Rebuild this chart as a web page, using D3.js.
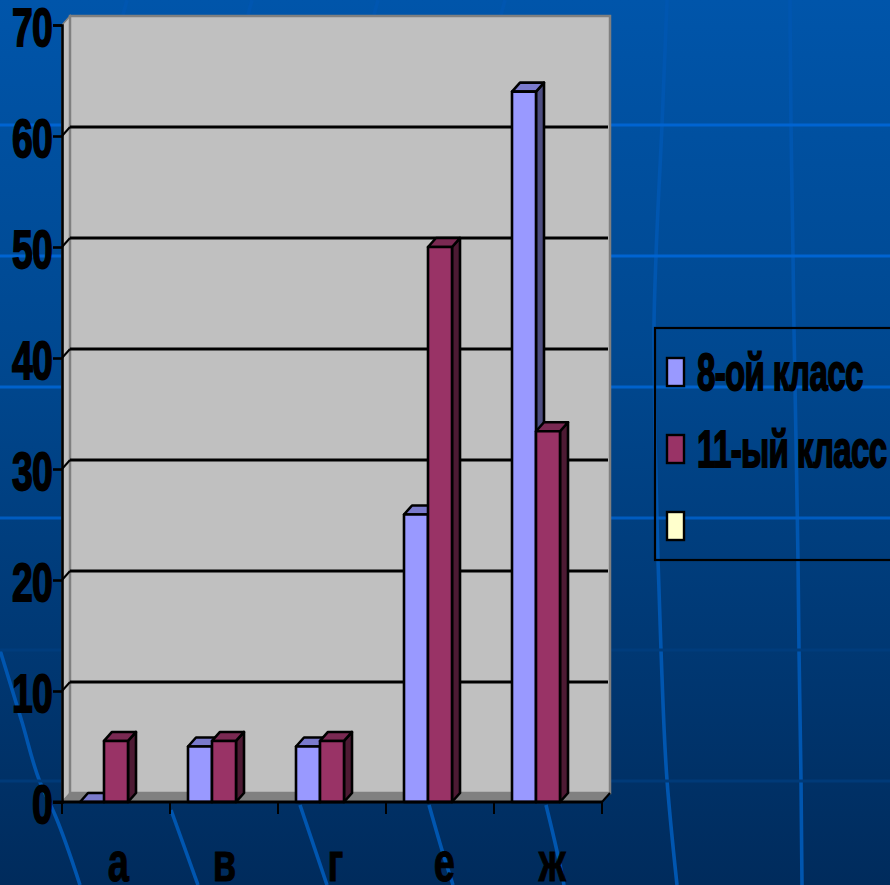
<!DOCTYPE html>
<html><head><meta charset="utf-8">
<script src="https://cdn.jsdelivr.net/npm/d3@7"></script>
<style>html,body{margin:0;padding:0;background:#00305f}svg{display:block}</style></head>
<body><svg id="c" width="890" height="885"></svg>
<script>
const categories = ["а","в","г","е","ж"];
const seriesNames = ["8-ой класс","11-ый класс",""];
const values8 = [0,5,5,25.9,64];
const values11 = [5.5,5.5,5.5,50,33.4];
const valuesThird = [null,null,null,null,null];
const yTicks = [0,10,20,30,40,50,60,70];
const frontColors = ["#9999ff","#993366","#ffffcc"];
const topColors = ["#7a7acc","#7a2952","#ccccA3"];
const sideColors = ["#4d4d80","#4d1a33","#808066"];

const W=890,H=885, dx=8, dy=-9;
const svg=d3.select("#c");
const defs=svg.append("defs");
const g=defs.append("linearGradient").attr("id","bg").attr("x1",0).attr("y1",0).attr("x2",0).attr("y2",1);
g.append("stop").attr("offset","0").attr("stop-color","#0055aa");
g.append("stop").attr("offset","0.4").attr("stop-color","#004890");
g.append("stop").attr("offset","1").attr("stop-color","#002b5c");
svg.append("rect").attr("width",W).attr("height",H).attr("fill","url(#bg)");

// Background decoration of the slide
const bgV=[
 [[667,0],[662,125],[656,256],[654,330],[655,440],[658,560],[661,650],[667,780],[677,885]],
 [[790,0],[791,125],[793,256],[794,330],[796,440],[798,560],[799,650],[801,780],[802,885]],
 [[127,0],[123,15]],[[252,0],[248,15]],[[378,0],[374,15]],[[505,0],[501,15]],
 [[0,650],[22,722],[40,782],[55,815],[80,885]],
 [[171,810],[198,885]],[[300,805],[327,885]],[[429,805],[445,860],[453,885]],[[546,805],[560,865],[564,885]]
];
const ln=d3.line().curve(d3.curveMonotoneY);
bgV.forEach(p=>svg.append("path").attr("d",ln(p)).attr("fill","none").attr("stroke","#0056b0").attr("stroke-width",3.6));
const bgH=[[125,"#0064d2"],[256,"#0064d2"],[387,"#0062cc"],[518,"#005cc0"],[650,"#003c7c"],[781,"#003a78"]];
bgH.forEach(d=>svg.append("line").attr("x1",0).attr("x2",W).attr("y1",d[0]).attr("y2",d[0]).attr("stroke",d[1]).attr("stroke-width",3));

// scales
const x=d3.scaleBand().domain(categories).range([62,602]).paddingInner(1/3).paddingOuter(1/6);
const x1=d3.scaleBand().domain([0,1,2]).range([0,x.bandwidth()]);
const y=d3.scaleLinear().domain([0,70]).range([802,25]);

const poly=p=>"M"+p.map(q=>q.join(",")).join("L")+"Z";
const x0=x.range()[0], xN=x.range()[1], y0=y(0), yT=y(70);

// walls
svg.append("path").attr("d",poly([[x0,y0],[x0+dx,y0+dy],[x0+dx,yT+dy],[x0,yT]])).attr("fill","#c0c0c0").attr("stroke","#808080").attr("stroke-width",1.5);
svg.append("rect").attr("x",x0+dx).attr("y",yT+dy).attr("width",xN-x0).attr("height",y0-yT).attr("fill","#c0c0c0").attr("stroke","#808080").attr("stroke-width",2.5);
svg.append("path").attr("d",poly([[x0,y0],[x0+dx,y0+dy],[xN+dx,y0+dy],[xN,y0]])).attr("fill","#808080");

// gridlines
yTicks.filter(t=>t>0&&t<70).forEach(t=>{
  svg.append("line").attr("x1",x0+dx).attr("x2",xN+dx-2).attr("y1",y(t)+dy).attr("y2",y(t)+dy).attr("stroke","#000").attr("stroke-width",3);
  svg.append("line").attr("x1",x0).attr("x2",x0+dx).attr("y1",y(t)).attr("y2",y(t)+dy).attr("stroke","#000").attr("stroke-width",2);
});

// bars
const series=[values8,values11,valuesThird];
series.forEach((vals,s)=>{
  categories.forEach((c,i)=>{
    const v=vals[i]; if(v==null) return;
    const xl=x(c)+x1(s), xr=xl+x1.bandwidth(), yt=y(v);
    const a=svg.append("g").attr("stroke","#000").attr("stroke-width",2.6).attr("stroke-linejoin","round");
    a.append("path").attr("d",poly([[xr,yt],[xr+dx,yt+dy],[xr+dx,y0+dy],[xr,y0]])).attr("fill",sideColors[s]);
    a.append("path").attr("d",poly([[xl,yt],[xl+dx,yt+dy],[xr+dx,yt+dy],[xr,yt]])).attr("fill",topColors[s]);
    if(v>0) a.append("rect").attr("x",xl).attr("y",yt).attr("width",xr-xl).attr("height",y0-yt).attr("fill",frontColors[s]);
  });
});

// axes
const yAxis=d3.axisLeft(y).tickValues(yTicks).tickSize(9).tickPadding(0).tickFormat(d=>"");
const gy=svg.append("g").attr("transform",`translate(${x0},0)`).call(yAxis);
gy.selectAll("line,path").attr("stroke","#000").attr("stroke-width",2.6);
const edges=d3.range(categories.length+1).map(i=>x0+i*x.step());
svg.append("line").attr("x1",x0-9).attr("x2",xN).attr("y1",y0).attr("y2",y0).attr("stroke","#000").attr("stroke-width",3);
edges.forEach(e=>svg.append("line").attr("x1",e).attr("x2",e).attr("y1",y0).attr("y2",y0+12).attr("stroke","#000").attr("stroke-width",2));
svg.append("line").attr("x1",xN).attr("x2",xN+dx).attr("y1",y0).attr("y2",y0+dy).attr("stroke","#000").attr("stroke-width",2);

// condensed heavy text
function label(tx,ty,str,fs,sx,anchor,sw){
  svg.append("text").attr("transform",`translate(${tx},${ty}) scale(${sx},1)`).attr("text-anchor",anchor)
   .attr("font-family","'Liberation Sans',Arial,sans-serif").attr("font-weight","bold").attr("font-size",fs)
   .attr("fill","#000").attr("stroke","#000").attr("stroke-width",sw).attr("letter-spacing",-1).text(str);
}
yTicks.forEach(t=>label(52,y(t)+21,String(t),54,0.69,"end",1.8));
const catShift=[2,0,3,4,4];
categories.forEach((c,i)=>label(x(c)+x.bandwidth()/2+catShift[i],881,c,56,0.68,"middle",1));

// legend
svg.append("rect").attr("x",655).attr("y",328).attr("width",245).attr("height",232).attr("fill","none").attr("stroke","#000").attr("stroke-width",2.2);
const legY=d3.scalePoint().domain([0,1,2]).range([372,526]);
seriesNames.forEach((n,i)=>{
  svg.append("rect").attr("x",667).attr("y",legY(i)-14).attr("width",17).attr("height",28).attr("fill",frontColors[i]).attr("stroke","#000").attr("stroke-width",2.4);
  if(n) label(697,legY(i)+18,n,52,0.635,"start",1.8);
});
</script></body></html>
